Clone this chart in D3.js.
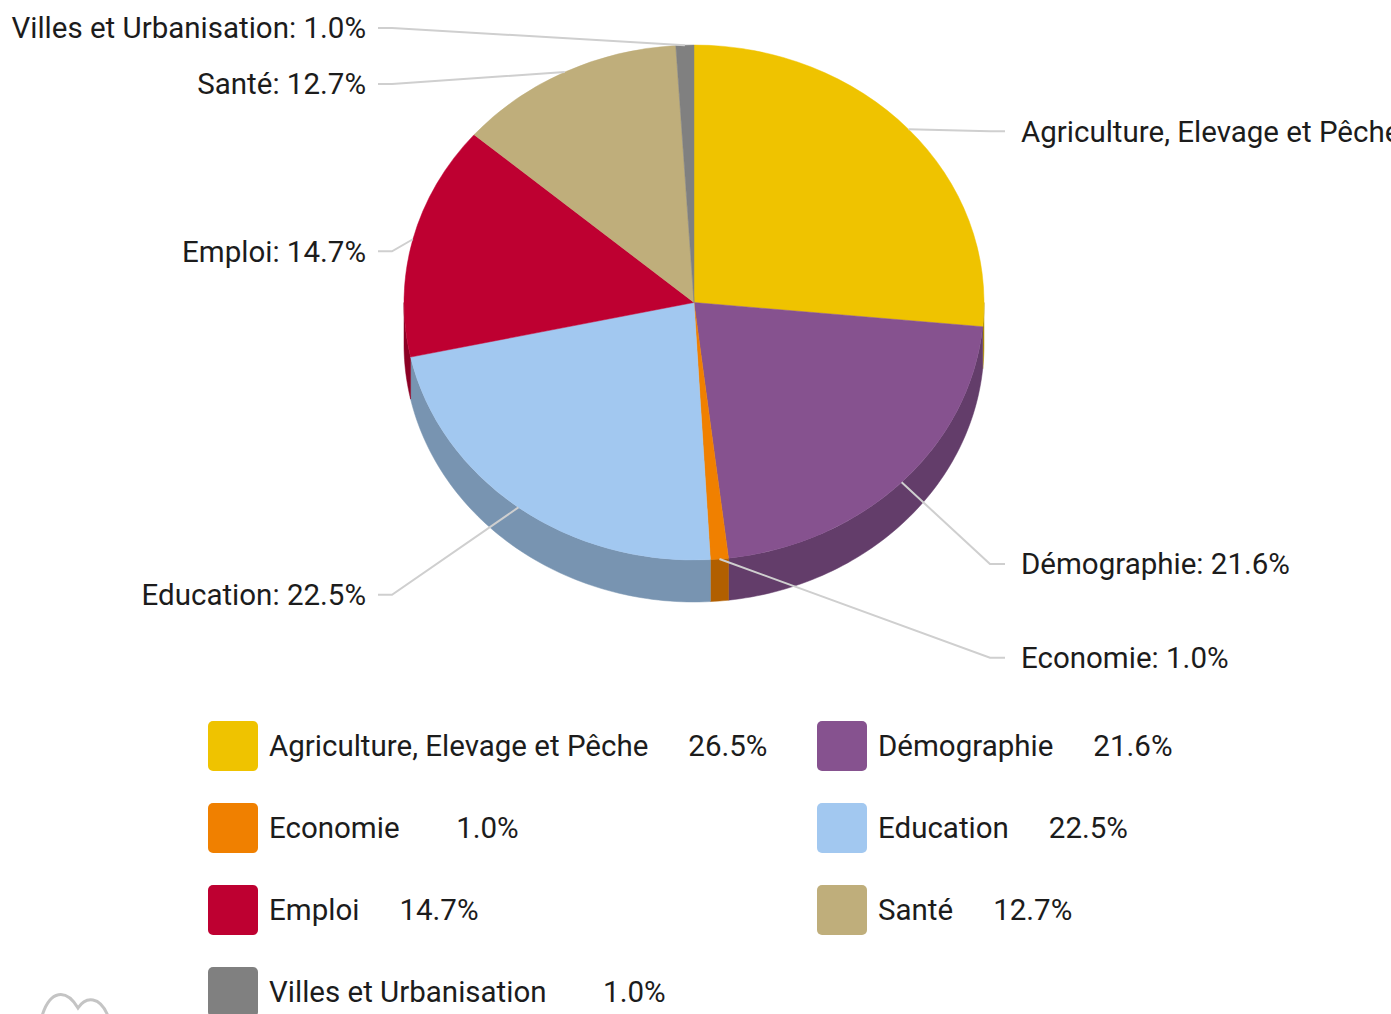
<!DOCTYPE html>
<html>
<head>
<meta charset="utf-8">
<script src="https://cdn.jsdelivr.net/npm/d3@7"></script>
<style>
  html, body { margin: 0; padding: 0; background: #fff; overflow: hidden; }
  svg { display: block; font-family: Roboto, "Noto Sans", sans-serif; }
  .label { font-size: 29.5px; fill: #1c1c1c; }
  .leader { fill: none; stroke: #cfcfcf; stroke-width: 2; }
</style>
</head>
<body>
<div id="chart"></div>
<script>
// Sector shares (%)
const categories = [
  'Agriculture, Elevage et Pêche',
  'Démographie',
  'Economie',
  'Education',
  'Emploi',
  'Santé',
  'Villes et Urbanisation'
];
const values = [26.5, 21.6, 1.0, 22.5, 14.7, 12.7, 1.0];
const colors = ['#efc300', '#86528f', '#f08000', '#a2c8f0', '#be0031', '#bfae7b', '#808080'];

const width = 1391;
const height = 1014;

// pie geometry (tilted ellipse + extrusion)
const cx = 694, cy = 302.5;
const rx = 290, ry = 257.5;
const depth = 42;

const data = categories.map((name, i) => ({ name, value: values[i], color: colors[i] }));
const fmt = v => v.toFixed(1) + '%';

const svg = d3.select('#chart').append('svg')
  .attr('width', width)
  .attr('height', height);

const pie = d3.pie().sort(null).value(d => d.value);
const arcs = pie(data);

const ex = a => cx + rx * Math.sin(a);
const ey = a => cy - ry * Math.cos(a);

// Side walls - only the lower half of the rim is visible
const sideG = svg.append('g');
const line = d3.line();
arcs.forEach(a => {
  const s = Math.max(a.startAngle, Math.PI / 2);
  const e = Math.min(a.endAngle, Math.PI * 1.5);
  if (e <= s) return;
  const steps = Math.max(2, Math.ceil((e - s) / 0.02));
  const top = d3.range(steps + 1).map(k => s + (e - s) * k / steps);
  const pts = top.map(t => [ex(t), ey(t)])
    .concat(top.slice().reverse().map(t => [ex(t), ey(t) + depth]));
  const shade = d3.color(a.data.color).darker(0.85);
  sideG.append('path')
    .attr('d', line(pts) + 'Z')
    .attr('fill', shade)
    .attr('stroke', shade)
    .attr('stroke-width', 0.5);
});

// Top face
const arc = d3.arc().innerRadius(0).outerRadius(rx);
svg.append('g')
  .attr('transform', `translate(${cx},${cy}) scale(1,${ry / rx})`)
  .selectAll('path')
  .data(arcs)
  .join('path')
  .attr('d', arc)
  .attr('fill', d => d.data.color)
  .attr('stroke', d => d.data.color)
  .attr('stroke-width', 0.5);

// Outside labels with leader lines
const rightX = 1021, leftX = 366, gap = 56;
const labels = arcs.map(a => {
  const m = (a.startAngle + a.endAngle) / 2;
  const c = Math.cos(m);
  const right = Math.sin(m) >= 0;
  const ax = ex(m), ay = ey(m);
  const y = c < 0 ? ay + depth + 57 * (-c) : ay + (right ? 2 : 12);
  return { a, m, ax, ay, y, right };
});

// simple collision handling on each side
const resolve = list => {
  list.sort((p, q) => p.y - q.y);
  for (let i = list.length - 2; i >= 0; i--) {
    if (list[i].y > list[i + 1].y - gap) list[i].y = list[i + 1].y - gap;
  }
};
resolve(labels.filter(l => l.right));
resolve(labels.filter(l => !l.right));

const labelG = svg.append('g');
labels.forEach(l => {
  const pts = l.right
    ? [[l.ax, l.ay], [rightX - 31, l.y], [rightX - 16, l.y]]
    : [[l.ax, l.ay], [leftX + 26, l.y], [leftX + 12, l.y]];
  labelG.append('path')
    .attr('class', 'leader')
    .attr('d', line(pts));
  labelG.append('text')
    .attr('class', 'label')
    .attr('x', l.right ? rightX : leftX)
    .attr('y', l.y)
    .attr('dy', '0.35em')
    .attr('text-anchor', l.right ? 'start' : 'end')
    .text(`${l.a.data.name}: ${fmt(l.a.data.value)}`);
});

// Legend
const legendCols = [208, 817];
const legendTop = 746, rowH = 82, sw = 50;
const legend = svg.append('g');

const probe = legend.append('text').attr('class', 'label').text('00.0%');
const valW = probe.node().getComputedTextLength();
probe.remove();

data.forEach((d, i) => {
  const x = legendCols[i % 2];
  const y = legendTop + Math.floor(i / 2) * rowH;
  legend.append('rect')
    .attr('x', x)
    .attr('y', y - sw / 2)
    .attr('width', sw)
    .attr('height', sw)
    .attr('rx', 5)
    .attr('fill', d.color);
  const t = legend.append('text')
    .attr('class', 'label')
    .attr('x', x + 61)
    .attr('y', y)
    .attr('dy', '0.35em')
    .text(d.name);
  const len = t.node().getComputedTextLength();
  legend.append('text')
    .attr('class', 'label')
    .attr('x', x + 61 + len + 40 + valW)
    .attr('y', y)
    .attr('dy', '0.35em')
    .attr('text-anchor', 'end')
    .text(fmt(d.value));
});

// faint logo outline, bottom-left corner
svg.append('path')
  .attr('d', 'M42,1016 C50,990 66,988 78,1008 C86,996 100,996 108,1016')
  .attr('fill', 'none')
  .attr('stroke', '#c4c4c4')
  .attr('stroke-width', 3);
</script>
</body>
</html>
